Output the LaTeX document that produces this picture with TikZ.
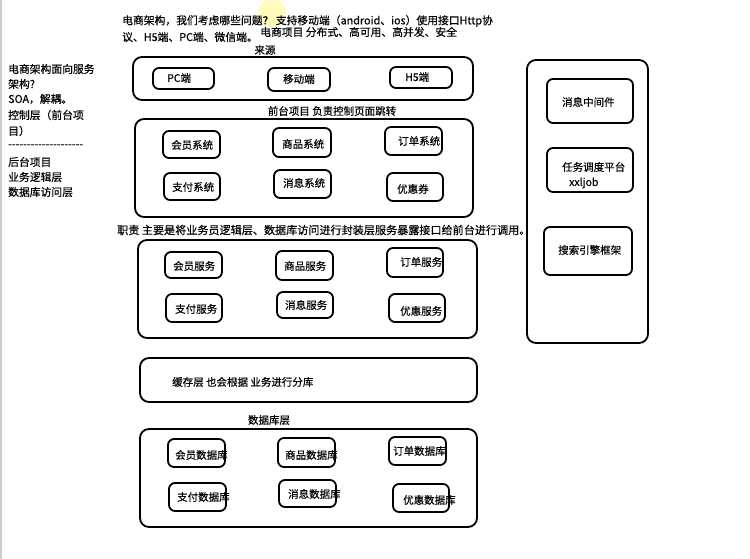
\documentclass[tikz,border=0pt]{standalone}
\usepackage{fontspec}
\setmainfont{Noto Sans CJK SC}[FakeBold=0.4]
\newcommand\myibx[8]{%
  \pgfmathsetmacro\myBw{#4-#2}\pgfmathsetmacro\myBh{#5-#3}%
  \pgfmathsetmacro\myBx{(#2+#4)/2}\pgfmathsetmacro\myBy{(#3+#5)/2}%
  \node[ibox, minimum width=\myBw pt, minimum height=\myBh pt] (#1) at (\myBx,\myBy) {};
  \node[lbl, anchor=west] (#1t) at (#6,#7) {#8};}
\newcommand\myobx[6]{%
  \pgfmathsetmacro\myBw{#4-#2}\pgfmathsetmacro\myBh{#5-#3}%
  \pgfmathsetmacro\myBx{(#2+#4)/2}\pgfmathsetmacro\myBy{(#3+#5)/2}%
  \node[obox, minimum width=\myBw pt, minimum height=\myBh pt, #6] (#1) at (\myBx,\myBy) {};}
\begin{document}
\begin{tikzpicture}[x=1pt,y=-1pt,
  obox/.style={draw, line width=1.8pt, rounded corners=9pt, inner sep=0pt},
  ibox/.style={draw, line width=1.8pt, rounded corners=6pt, inner sep=0pt},
  lbl/.style={inner sep=0pt, font=\fontsize{10.5}{12}\selectfont},
  big/.style={inner sep=0pt, font=\fontsize{10.8}{13}\selectfont},
]
\useasboundingbox (0,0) rectangle (750,559);
\fill[white] (0,0) rectangle (750,559);
\draw[color=blue!15!gray!35, line width=2pt] (1,0) -- (1,559);
% yellow cursor highlight
\fill[yellow!60, opacity=0.45] (272,13) circle (14);

% title
\node[big, anchor=west] (t1) at (122,21) {电商架构，我们考虑哪些问题？ 支持移动端（android、ios）使用接口Http协};
\node[big, anchor=west] (t2) at (122,37) {议、H5端、PC端、微信端。};
\node[big, anchor=west] (t3) at (260,32) {电商项目 分布式、高可用、高并发、安全};

% left notes
\node[big, anchor=west] (l1) at (8,69) {电商架构面向服务};
\node[big, anchor=west] (l2) at (8,84) {架构?};
\node[big, anchor=west] (l3) at (8,99) {SOA，解耦。};
\node[big, anchor=west] (l4) at (8,115) {控制层（前台项};
\node[big, anchor=west] (l5) at (8,131) {目）};
\node[big, anchor=west] (l6) at (8,146) {-{}-{}-{}-{}-{}-{}-{}-{}-{}-{}-{}-{}-{}-{}-{}-{}-{}-{}-{}-};
\node[big, anchor=west] (l7) at (8,162) {后台项目};
\node[big, anchor=west] (l8) at (8,177) {业务逻辑层};
\node[big, anchor=west] (l9) at (8,192) {数据库访问层};

% layer 1: sources
\node[lbl] (src) at (265,50) {来源};
\myobx{b1}{133}{57}{473}{100}{}
\myibx{pc}{153}{68}{214}{89}{167}{78}{PC端}
\myibx{mob}{268}{68}{330}{91}{283}{79}{移动端}
\myibx{h5}{390}{67}{452}{88}{405}{77}{H5端}

% layer 2: front
\node[lbl] (fr) at (332,111) {前台项目 负责控制页面跳转};
\myobx{b2}{135}{119}{473}{217}{}
\myibx{s1}{163}{131}{220}{158}{171}{145}{会员系统}
\myibx{s2}{273}{128}{331}{157}{282}{144}{商品系统}
\myibx{s3}{385}{127}{442}{155}{398}{141}{订单系统}
\myibx{s4}{164}{173}{220}{200}{172}{187}{支付系统}
\myibx{s5}{274}{170}{331}{198}{283}{183}{消息系统}
\myibx{s6}{387}{173}{443}{201}{397}{189}{优惠券}

% layer 3: services
\node[inner sep=0pt, font=\fontsize{11.1}{13}\selectfont, anchor=west] (duty) at (117,230) {职责 主要是将业务员逻辑层、数据库访问进行封装层服务暴露接口给前台进行调用。};
\myobx{b3}{138}{240}{477}{338}{}
\myibx{v1}{165}{252}{222}{278}{173}{266}{会员服务}
\myibx{v2}{276}{251}{333}{280}{284}{266}{商品服务}
\myibx{v3}{387}{248}{443}{277}{400}{262}{订单服务}
\myibx{v4}{166}{294}{222}{322}{175}{309}{支付服务}
\myibx{v5}{277}{292}{333}{318}{285}{305}{消息服务}
\myibx{v6}{389}{294}{445}{322}{400}{311}{优惠服务}

% layer 4: cache
\myobx{b4}{140}{358}{477}{402}{}
\node[lbl, anchor=west] (cache) at (172,382) {缓存层 也会根据 业务进行分库};

% layer 5: database
\node[lbl] (dbl) at (269,420) {数据库层};
\myobx{b5}{140}{429}{477}{527}{}
\myibx{d1}{168}{439}{225}{467}{175}{455}{会员数据库}
\myibx{d2}{278}{438}{335}{467}{285}{455}{商品数据库}
\myibx{d3}{389}{437}{446}{465}{393}{451}{订单数据库}
\myibx{d4}{169}{483}{226}{511}{177}{497}{支付数据库}
\myibx{d5}{279}{480}{336}{507}{288}{494}{消息数据库}
\myibx{d6}{393}{484}{449}{512}{403}{500}{优惠数据库}

% right column
\myobx{r}{527}{60}{648}{343}{}
\myibx{m1}{547}{79}{633}{123}{562}{102}{消息中间件}
\myibx{m2}{547}{148}{633}{192}{562}{167}{任务调度平台}
\node[lbl, anchor=west] (xxl) at (569,183) {xxljob};
\myibx{m3}{544}{227}{632}{275}{558}{250}{搜索引擎框架}
\end{tikzpicture}
\end{document}
